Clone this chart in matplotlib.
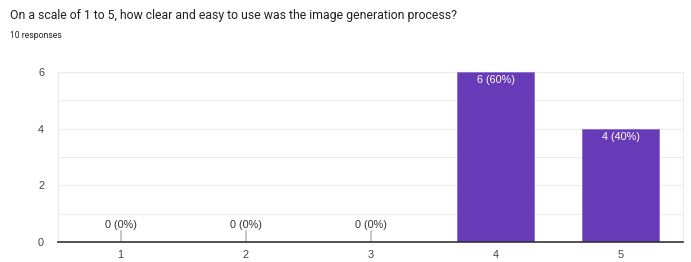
import matplotlib.pyplot as plt

# Data
categories = ["1", "2", "3", "4", "5"]
counts = [0, 0, 0, 6, 4]
total = 10
title = "On a scale of 1 to 5, how clear and easy to use was the image generation process?"
subtitle = "10 responses"

plt.rcParams['font.family'] = ['Liberation Sans', 'DejaVu Sans']

fig = plt.figure(figsize=(6.91, 2.62), dpi=100)
ax = fig.add_axes([58 / 691, 20 / 262, 625 / 691, 170 / 262])

x = list(range(1, len(categories) + 1))
bars = ax.bar(x, counts, width=0.62, color="#673ab7", edgecolor="#8e6bd0", linewidth=0.6, zorder=3)

for xi, c in zip(x, counts):
    label = f"{c} ({round(100 * c / total)}%)"
    if c == 0:
        ax.plot([xi, xi], [0, 0.38], color="#bdbdbd", lw=1.2, zorder=3)
        ax.text(xi, 0.5, label, ha="center", va="baseline", fontsize=7.8, color="#333333")
    else:
        ax.text(xi, c - 0.12, label, ha="center", va="top", fontsize=7.8, color="white", zorder=4)

ax.set_xlim(0.5, 5.5)
ax.set_ylim(0, 6)
ax.set_yticks([0, 2, 4, 6])
ax.set_yticks([1, 3, 5], minor=True)
ax.set_xticks(x)
ax.set_xticklabels(categories)
ax.grid(axis="y", which="both", color="#ececec", lw=0.8, zorder=0)
ax.tick_params(axis="both", which="both", length=0, labelsize=7.8, labelcolor="#444444")
ax.tick_params(axis="y", pad=10)
ax.tick_params(axis="x", pad=6)

for s in ["left", "right", "top"]:
    ax.spines[s].set_color("#ececec")
    ax.spines[s].set_linewidth(0.8)
ax.spines["bottom"].set_color("#333333")
ax.spines["bottom"].set_linewidth(1.2)
ax.spines["bottom"].set_zorder(5)

fig.text(10 / 691, 1 - 15 / 262, title, fontsize=8.8, color="#202124", va="center", ha="left",
         family=['Roboto', 'DejaVu Sans'])
fig.text(10 / 691, 1 - 35 / 262, subtitle, fontsize=6.2, color="#202124", va="center", ha="left",
         family=['Roboto', 'DejaVu Sans'])

fig.savefig("out.png", dpi=100)
